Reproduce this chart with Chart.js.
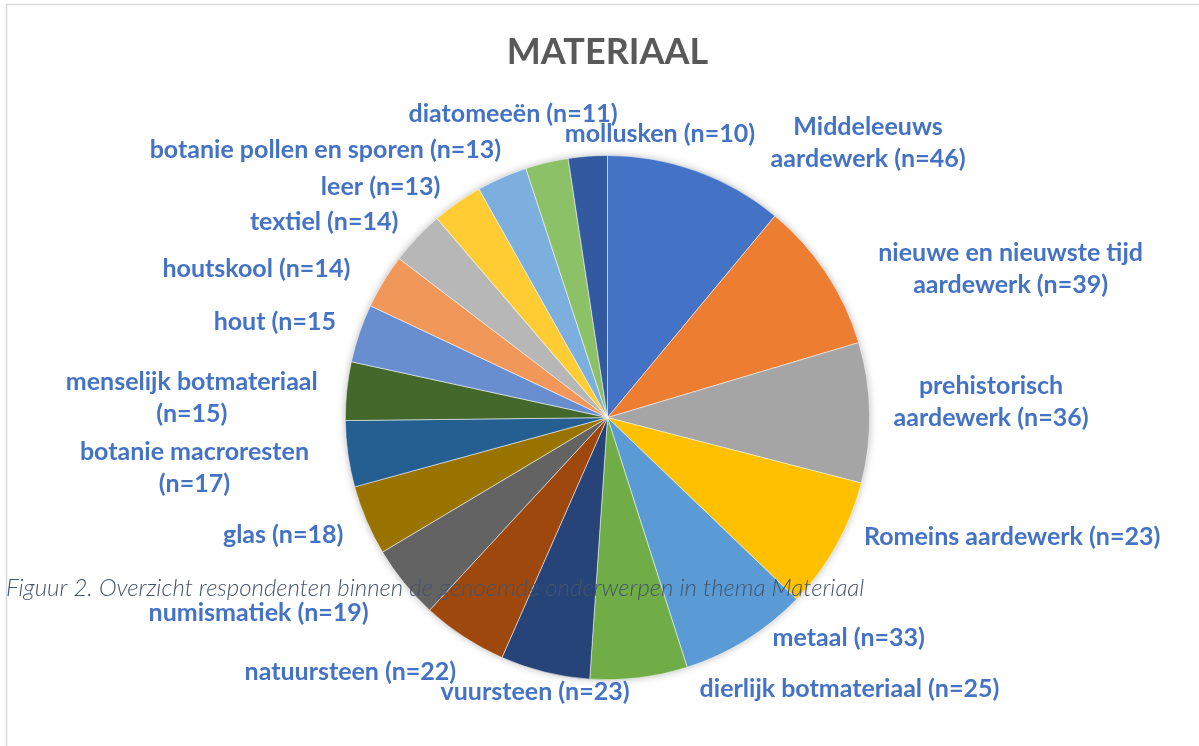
<!DOCTYPE html>
<html>
<head>
<meta charset="utf-8">
<script src="https://cdn.jsdelivr.net/npm/chart.js@4/dist/chart.umd.min.js"></script>
<style>
  body { margin: 0; background: #fff; }
</style>
</head>
<body>
<canvas id="myPieChart" width="1199" height="746"></canvas>
<script>
// categories (label text as shown, line breaks included)
var categories = [
    ['Middeleeuws', 'aardewerk (n=46)'],
    ['nieuwe en nieuwste tijd', 'aardewerk (n=39)'],
    ['prehistorisch', 'aardewerk (n=36)'],
    'Romeins aardewerk (n=23)',
    'metaal (n=33)',
    'dierlijk botmateriaal (n=25)',
    'vuursteen (n=23)',
    'natuursteen (n=22)',
    'numismatiek (n=19)',
    'glas (n=18)',
    ['botanie macroresten', '(n=17)'],
    ['menselijk botmateriaal', '(n=15)'],
    'hout (n=15',
    'houtskool (n=14)',
    'textiel (n=14)',
    'leer (n=13)',
    'botanie pollen en sporen (n=13)',
    'diatomeeën (n=11)',
    'mollusken (n=10)'
];

// slice sizes
var respondents = [46, 39, 36, 34, 33, 25, 23, 22, 19, 18, 17, 15, 15, 14, 14, 13, 13, 11, 10];

var sliceColors = [
    '#4472C4', '#ED7D31', '#A5A5A5', '#FFC000', '#5B9BD5', '#70AD47',
    '#264478', '#9E480E', '#636363', '#997300', '#255E91', '#43682B',
    '#698ED0', '#F1975A', '#B7B7B7', '#FFCD33', '#7CAFDD', '#8CC168', '#335AA1'
];

// label shifts (px) away from the default outside-end spot
var labelNudge = [
    [70, 13], [42, 20], [12, -10], [17, -22], [20, -26], [209, -17], [-7, -7],
    [-1, 12], [-26, 12], [-12, 4], [-27, 8], [-17, 11], [-12, -2], [-23, 2],
    [-10, 4], [-10, 7], [4, -2], [-31, -21], [73, 6]
];

var lineH = 32;

var framePlugin = {
    id: 'frame',
    beforeDraw: function(chart) {
        var ctx = chart.ctx;
        ctx.save();
        ctx.fillStyle = '#fff';
        ctx.fillRect(0, 0, chart.width, chart.height);
        ctx.strokeStyle = '#d9d9d9';
        ctx.lineWidth = 1.5;
        ctx.strokeRect(6.5, 4.5, chart.width + 20, chart.height + 20);
        ctx.restore();
    },
    beforeDatasetsDraw: function(chart) {
        // soft shadow under the pie
        var arc = chart.getDatasetMeta(0).data[0];
        var p = arc.getProps(['x', 'y', 'outerRadius'], true);
        var ctx = chart.ctx;
        ctx.save();
        ctx.shadowColor = 'rgba(0,0,0,0.35)';
        ctx.shadowBlur = 9;
        ctx.fillStyle = '#fff';
        ctx.beginPath();
        ctx.arc(p.x, p.y, p.outerRadius - 1, 0, Math.PI * 2);
        ctx.fill();
        ctx.restore();
    },
    afterDatasetsDraw: function(chart) {
        var ctx = chart.ctx;
        var meta = chart.getDatasetMeta(0);
        ctx.save();
        ctx.font = 'bold 25px Lato';
        ctx.fillStyle = '#4472C4';
        ctx.textBaseline = 'middle';
        ctx.textAlign = 'center';
        meta.data.forEach(function(arc, i) {
            var p = arc.getProps(['x', 'y', 'startAngle', 'endAngle', 'outerRadius'], true);
            var mid = (p.startAngle + p.endAngle) / 2;
            var sx = Math.cos(mid), sy = Math.sin(mid);
            var ax = p.x + sx * (p.outerRadius + 12);
            var ay = p.y + sy * (p.outerRadius + 12);
            var lines = [].concat(categories[i]);
            var w = Math.max.apply(null, lines.map(function(l) { return ctx.measureText(l).width; }));
            var h = lines.length * lineH;
            var left;
            if (sx > 0.25) left = ax;
            else if (sx < -0.25) left = ax - w;
            else left = ax - w / 2;
            var cy = ay + sy * h / 2 + labelNudge[i][1];
            var cx = left + w / 2 + labelNudge[i][0];
            lines.forEach(function(l, j) {
                ctx.fillText(l, cx, cy - h / 2 + lineH * (j + 0.5));
            });
        });
        ctx.restore();
    },
    afterDraw: function(chart) {
        var ctx = chart.ctx;
        ctx.save();
        ctx.font = 'italic 300 24px Lato';
        ctx.fillStyle = '#44546A';
        ctx.textBaseline = 'middle';
        ctx.textAlign = 'left';
        ctx.fillText('Figuur 2. Overzicht respondenten binnen de genoemde onderwerpen in thema Materiaal', 6, 588);
        ctx.restore();
    }
};

var ctx_pie = document.getElementById('myPieChart').getContext('2d');
var chart_pie = new Chart(ctx_pie, {
    type: 'pie',
    data: {
        labels: categories,
        datasets: [{
            data: respondents,
            backgroundColor: sliceColors,
            borderColor: '#ffffff',
            borderWidth: 0.5
        }]
    },
    options: {
        responsive: false,
        animation: false,
        layout: {
            padding: { left: 16, right: 0, top: 0, bottom: 66 }
        },
        plugins: {
            legend: { display: false },
            tooltip: { enabled: false },
            title: {
                display: true,
                text: 'MATERIAAL',
                color: '#595959',
                font: { family: 'Lato', size: 36, weight: 'bold' },
                padding: { top: 31, bottom: 81 }
            }
        }
    },
    plugins: [framePlugin]
});
</script>
</body>
</html>
